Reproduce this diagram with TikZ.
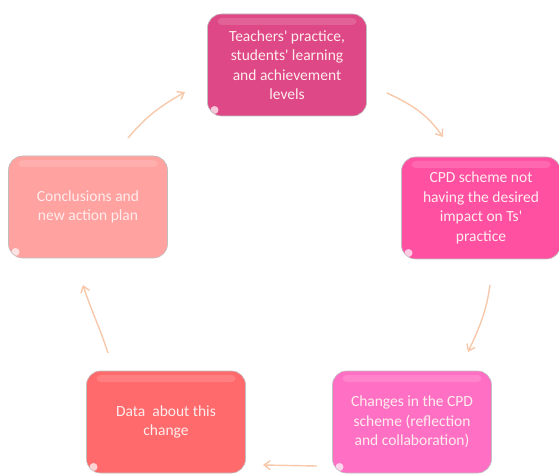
\documentclass[tikz,border=0pt]{standalone}
\usepackage{fontspec}
\newfontfamily\boxfont{Carlito}
\usetikzlibrary{arrows.meta}

\definecolor{c1}{RGB}{222,72,134}
\definecolor{c2}{RGB}{255,80,162}
\definecolor{c3}{RGB}{255,112,196}
\definecolor{c4}{RGB}{255,106,108}
\definecolor{c5}{RGB}{255,162,160}
\definecolor{peach}{RGB}{248,200,170}

\begin{document}
\begin{tikzpicture}[x=1pt,y=1pt,
    box/.style={draw=black!25,line width=0.6pt,fill=#1,rounded corners=14pt,
      minimum width=159pt,minimum height=102pt,align=center,
      text=white!93!red,font=\boxfont\fontsize{15.5}{19.5}\selectfont,
      path picture={
        \fill[white,opacity=0.14,rounded corners=4pt]
          ([xshift=10pt,yshift=-4pt]path picture bounding box.north west)
          rectangle ([xshift=-10pt,yshift=-11pt]path picture bounding box.north east);
        \fill[white,opacity=0.7]
          ([xshift=7pt,yshift=6pt]path picture bounding box.south west) circle (4pt);
      }},
    arc/.style={peach,line width=1.4pt,-{Straight Barb[length=6pt,width=9pt]}}]
  \useasboundingbox (0,0) rectangle (559,474);

  \node[box=c1] (practice) at (287,409) {Teachers' practice,\\students' learning\\and achievement\\levels};
  \node[box=c2] (cpd) at (481,266) {CPD scheme not\\having the desired\\impact on Ts'\\practice};
  \node[box=c3] (changes) at (412,52) {Changes in the CPD\\scheme (reflection\\and collaboration)};
  \node[box=c4] (data) at (166,52) {Data~ about this\\change};
  \node[box=c5] (plan) at (88,267) {Conclusions and\\new action plan};

  % ends of the arrows in the gaps
  \coordinate (a1) at (128,336);  \coordinate (b1) at (185,382);
  \coordinate (a2) at (387,381);  \coordinate (b2) at (443,337);
  \coordinate (a3) at (490,189);  \coordinate (b3) at (468,122);
  \coordinate (a4) at (317,8);    \coordinate (b4) at (263,9);
  \coordinate (a5) at (108,121);  \coordinate (b5) at (83,189);

  \path[arc]
    (a1) edge [out=50,in=210] (b1)
    (a2) edge [out=-25,in=125] (b2)
    (a3) edge [out=-98,in=65] (b3)
    (a4) edge (b4)
    (a5) edge [out=108,in=-72] (b5);
\end{tikzpicture}
\end{document}
